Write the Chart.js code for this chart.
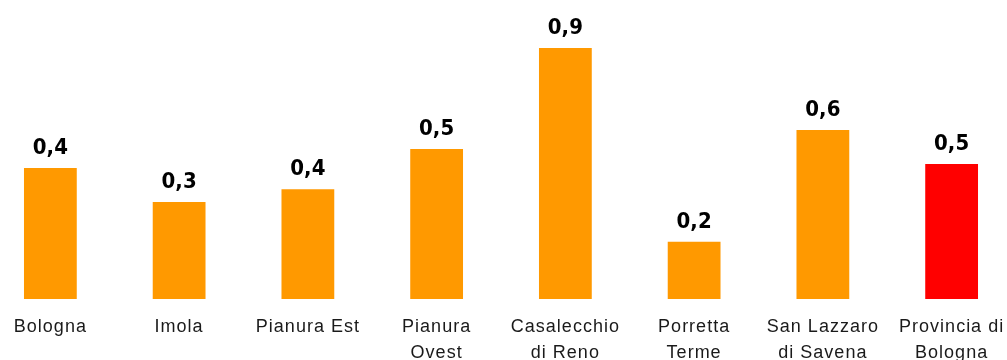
<!DOCTYPE html>
<html>
<head>
<meta charset="utf-8">
<script src="https://cdn.jsdelivr.net/npm/chart.js@4"></script>
<style>
    html, body { margin: 0; padding: 0; background: #fff; overflow: hidden; }
    .wrap { position: absolute; left: -14px; top: 0; width: 1030px; height: 360px; }
</style>
</head>
<body>
<div class="wrap"><canvas id="barChart"></canvas></div>
<script>
// categorie (etichette su due righe dove serve)
const categories = [
    'Bologna',
    'Imola',
    'Pianura Est',
    ['Pianura', 'Ovest'],
    ['Casalecchio', 'di Reno'],
    ['Porretta', 'Terme'],
    ['San Lazzaro', 'di Savena'],
    ['Provincia di', 'Bologna']
];
const values = [0.447, 0.331, 0.375, 0.512, 0.857, 0.195, 0.577, 0.461];
const barColors = ['#FF9900', '#FF9900', '#FF9900', '#FF9900', '#FF9900', '#FF9900', '#FF9900', '#FF0000'];

// etichette sopra le barre, con la virgola decimale
const valueLabels = {
    id: 'valueLabels',
    beforeDraw(chart) {
        chart.ctx.letterSpacing = '1px';
    },
    afterDatasetsDraw(chart) {
        const ctx = chart.ctx;
        const meta = chart.getDatasetMeta(0);
        ctx.save();
        ctx.letterSpacing = '0px';
        ctx.font = 'bold 22px "DejaVu Sans Condensed", "DejaVu Sans"';
        ctx.fillStyle = '#000';
        ctx.textAlign = 'center';
        ctx.textBaseline = 'alphabetic';
        meta.data.forEach((bar, i) => {
            const text = values[i].toFixed(1).replace('.', ',');
            ctx.fillText(text, bar.x, bar.y - 14);
        });
        ctx.restore();
    }
};

const ctx = document.getElementById('barChart').getContext('2d');
new Chart(ctx, {
    type: 'bar',
    data: {
        labels: categories,
        datasets: [{
            data: values,
            backgroundColor: barColors,
            borderWidth: 0,
            categoryPercentage: 1,
            barPercentage: 0.41
        }]
    },
    options: {
        responsive: true,
        maintainAspectRatio: false,
        animation: false,
        layout: {
            padding: { top: 6, left: 0, right: 0, bottom: 0 }
        },
        plugins: {
            legend: { display: false },
            tooltip: { enabled: false }
        },
        scales: {
            x: {
                grid: { display: false, drawTicks: false },
                border: { display: false },
                ticks: {
                    color: '#1a1a1a',
                    padding: 15,
                    maxRotation: 0,
                    autoSkip: false,
                    font: { family: '"Liberation Sans", Arial, sans-serif', size: 18, lineHeight: 1.45 }
                },
                afterFit(scale) {
                    scale.height = 61;
                }
            },
            y: {
                display: false,
                min: 0,
                max: 1
            }
        }
    },
    plugins: [valueLabels]
});
</script>
</body>
</html>
